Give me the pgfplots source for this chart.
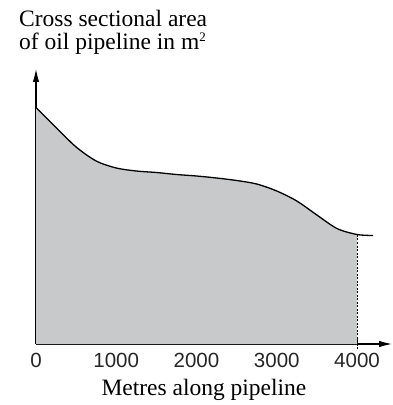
\documentclass[border=0pt]{standalone}
\usepackage{fontspec}
\setmainfont{Liberation Serif}
\setsansfont{Liberation Sans}
\usepackage{pgfplots}
\pgfplotsset{compat=1.18}
\usepgfplotslibrary{fillbetween}
\usetikzlibrary{arrows.meta}
\usepackage{pgfplotstable}
\definecolor{areagray}{RGB}{200,201,203}
\pgfplotstableread{
x y
0 236.5
250 216.5
500 197
750 183
1000 176
1250 173
1500 171.5
1750 169.5
2000 168
2250 166
2500 163.5
2750 160
3000 153
3250 143
3500 129
3750 115.5
4000 109.5
4200 108.5
}\curvedata
\begin{document}
\begin{tikzpicture}
\begin{axis}[
  scale only axis,
  width=356pt, height=275pt,
  xmin=0, xmax=4436, ymin=0, ymax=275,
  axis lines=left,
  axis line style={line width=1.1pt, -{Latex[length=13pt,width=6.5pt]}},
  xtick={0,1000,2000,3000,4000},
  xticklabels={0,1000,2000,3000,4000},
  ytick=\empty,
  tick align=inside,
  major tick length=7pt,
  tick style={line width=0.8pt, black},
  /pgf/number format/assume math mode=true,
  xticklabel style={font=\fontsize{20.5}{24}\selectfont\sffamily, anchor=base, yshift=-23pt, text=black!85},
  xlabel={Metres along pipeline},
  xlabel style={at={(axis description cs:0.4718,0)}, anchor=base, yshift=-51pt, inner sep=0pt, font=\fontsize{23.5}{26}\selectfont},
  clip=false,
]
\addplot[name path=curve, smooth, line width=1.3pt, black] table[x=x,y=y] {\curvedata};
\path[name path=base] (axis cs:0,0) -- (axis cs:4300,0);
\addplot[fill=areagray, draw=none] fill between[of=curve and base, soft clip={domain=0:4000}];
\addplot[black, line width=0.7pt, dash pattern=on 2pt off 1.5pt] coordinates {(4000,-5) (4000,109.5)};
\node[anchor=base west, inner sep=0pt, align=left, font=\fontsize{23.5}{23}\selectfont] at (rel axis cs:0,1) [xshift=-17pt, yshift=19pt] {Cross sectional area\\of oil pipeline in m\raisebox{8pt}{\fontsize{13}{13}\selectfont 2}};
\path (rel axis cs:0,0) ++(-36pt,-61pt) rectangle ++(393pt,405pt);
\end{axis}
\end{tikzpicture}
\end{document}
